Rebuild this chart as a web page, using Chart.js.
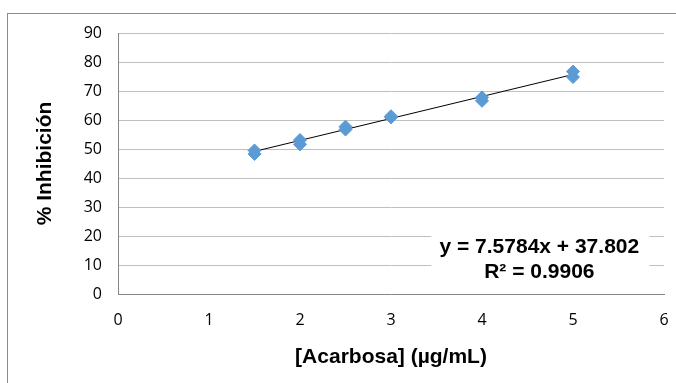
<!DOCTYPE html>
<html>
<head>
<meta charset="utf-8">
<script src="https://cdn.jsdelivr.net/npm/chart.js@4"></script>
<style>
    html, body { margin: 0; padding: 0; background: #fff; }
    #chart { display: block; }
</style>
</head>
<body>
<canvas id="chart" width="676" height="383"></canvas>
<script>
// 數據：[Acarbosa] 對 % Inhibición（每個濃度兩次重複）
const concentrations = [1.5, 1.5, 2, 2, 2.5, 2.5, 3, 3, 4, 4, 5, 5];
const inhibition = [49.5, 48.3, 53.1, 51.6, 57.7, 56.7, 61.3, 60.9, 67.8, 66.6, 76.7, 74.8];
const xTicks = [0, 1, 2, 3, 4, 5, 6];
const yTicks = [0, 10, 20, 30, 40, 50, 60, 70, 80, 90];

// 趨勢線（圖中顯示的回歸式）
const slope = 7.5784;
const intercept = 37.802;
const rSquared = 0.9906;
const trendX = [1.5, 5];

const points = concentrations.map((x, i) => ({ x: x, y: inhibition[i] }));
const trendPoints = trendX.map(x => ({ x: x, y: slope * x + intercept }));

const boldFont = '"Liberation Sans", Arial, sans-serif';
const tickFont = '"Open Sans", sans-serif';

// 外框
const framePlugin = {
    id: 'frame',
    beforeDraw(chart) {
        const c = chart.ctx;
        c.save();
        c.fillStyle = '#fff';
        c.fillRect(0, 0, chart.width, chart.height);
        c.strokeStyle = '#8c8c8c';
        c.lineWidth = 1;
        c.strokeRect(7.5, 13.5, 720, 420);
        c.restore();
    }
};

// 回歸式標籤
const equationPlugin = {
    id: 'equation',
    afterDatasetsDraw(chart) {
        const c = chart.ctx;
        const cx = chart.scales.x.getPixelForValue(4.63);
        const cy = chart.scales.y.getPixelForValue(12.0);
        c.save();
        c.fillStyle = '#fff';
        c.fillRect(cx - 108, cy - 25, 218, 49);
        c.fillStyle = '#000';
        c.font = 'bold 21px ' + boldFont;
        c.textAlign = 'center';
        c.textBaseline = 'middle';
        c.fillText('y = ' + slope + 'x + ' + intercept, cx, cy - 12);
        c.fillText('R\u00b2 = ' + rSquared, cx, cy + 13);
        c.restore();
    }
};

new Chart(document.getElementById('chart'), {
    type: 'scatter',
    data: {
        datasets: [
            {
                label: 'Inhibición',
                data: points,
                pointStyle: 'rectRot',
                pointRadius: 6.5,
                pointHoverRadius: 6.5,
                backgroundColor: '#5b9bd5',
                borderColor: '#5b9bd5',
                borderWidth: 1
            },
            {
                label: 'Lineal',
                type: 'line',
                data: trendPoints,
                borderColor: '#000',
                borderWidth: 1,
                pointRadius: 0,
                fill: false
            }
        ]
    },
    options: {
        responsive: false,
        animation: false,
        layout: { padding: { left: 0, right: 12, top: 33, bottom: 0 } },
        plugins: {
            legend: { display: false },
            tooltip: { enabled: false }
        },
        scales: {
            x: {
                type: 'linear',
                min: 0,
                max: 6,
                afterBuildTicks: axis => { axis.ticks = xTicks.map(v => ({ value: v })); },
                afterFit: axis => {
                    axis.height = 89;
                    axis.paddingLeft = 0;
                    axis.paddingRight = 0;
                },
                grid: { display: false, drawTicks: false },
                border: { display: true, color: '#868686', width: 1 },
                ticks: {
                    color: '#000',
                    font: { family: tickFont, size: 16 },
                    padding: 17
                },
                title: {
                    display: true,
                    text: '[Acarbosa] (µg/mL)',
                    color: '#000',
                    font: { family: boldFont, size: 21, weight: 'bold' },
                    padding: { top: 0, bottom: 13 }
                }
            },
            y: {
                min: 0,
                max: 90,
                afterBuildTicks: axis => { axis.ticks = yTicks.map(v => ({ value: v })); },
                afterFit: axis => {
                    axis.width = 118;
                    axis.paddingTop = 0;
                    axis.paddingBottom = 0;
                },
                grid: { color: '#bfbfbf', drawTicks: false },
                border: { display: true, color: '#868686', width: 1 },
                ticks: {
                    color: '#000',
                    font: { family: tickFont, size: 16 },
                    padding: 16
                },
                title: {
                    display: true,
                    text: '% Inhibición',
                    color: '#000',
                    font: { family: boldFont, size: 21, weight: 'bold' },
                    padding: { top: 33, bottom: 0 }
                }
            }
        }
    },
    plugins: [framePlugin, equationPlugin]
});
</script>
</body>
</html>
